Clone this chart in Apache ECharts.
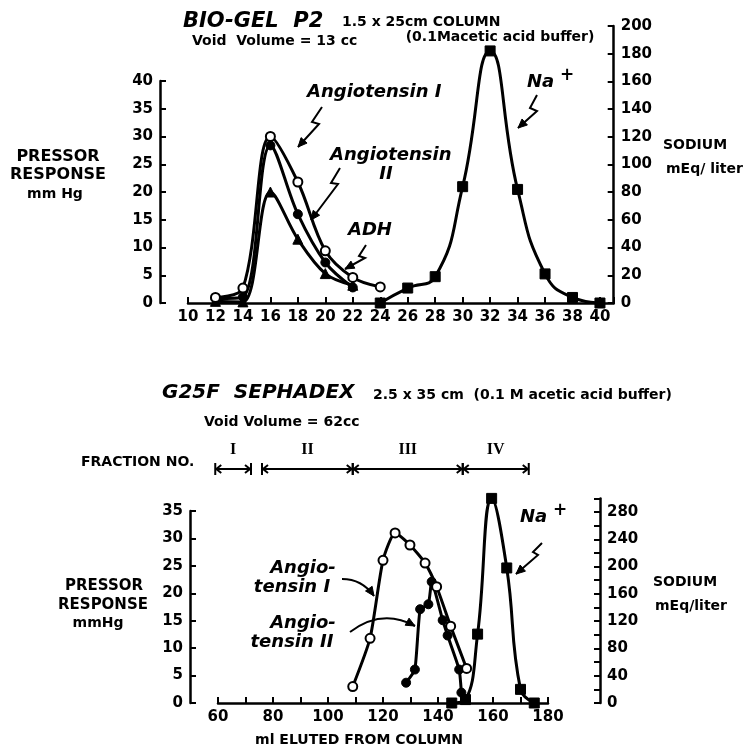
<!DOCTYPE html>
<html><head><meta charset="utf-8">
<script src="https://cdn.jsdelivr.net/npm/echarts@6/dist/echarts.min.js"></script>
<style>html,body{margin:0;padding:0;background:#fff}#c{width:750px;height:747px}</style>
</head><body><div id="c"></div>
<script>
// ---- Top panel: BIO-GEL P2 (ml eluted vs response / sodium) ----
const topAngioI  = [[12,1],[14,2.7],[16,30],[18,21.8],[20,9.4],[22,4.6],[24,2.9]];
const topAngioII = [[12,0.8],[14,1.1],[16,28.4],[18,16],[20,7.3],[22,2.8]];
const topADH     = [[12,0.3],[14,0.2],[16,20],[18,11.5],[20,5.3],[22,3.2]];
const topSodium  = [[24,0],[26,10.8],[28,19],[30,84],[32,182],[34,82],[36,21],[38,4],[40,0]];
// ---- Bottom panel: G25F SEPHADEX ----
const botAngioI  = [[109,3],[115.3,11.8],[120,26],[124.4,31],[129.8,28.8],[135.3,25.5],[139.5,21.2],[144.6,14],[150.4,6.3]];
const botAngioII = [[128.4,3.7],[131.6,6.1],[133.5,17.1],[136.5,18],[137.7,22.1],[141.7,15.1],[143.5,12.3],[147.7,6.1],[148.5,1.9]];
const botSodium  = [[145,0],[150,5],[154.4,101],[159.5,300],[165,198],[170,20],[175,0]];
// Fraction boundaries (ml) and names
const fractionRanges = [[59,72],[76,109],[109,149],[149,173]];
const fractionNames = ['I','II','III','IV'];

const FONT = 'DejaVu Sans';
const lab = {color:'#000', fontFamily:FONT, fontWeight:'bold', fontSize:15, margin:7};
const axLine = {show:true, lineStyle:{color:'#000', width:2.5}};
const tick = {show:true, inside:true, length:6, lineStyle:{color:'#000', width:2}};

function lineSeries(name, data, xi, yi, symbol, open, size, smooth){
  return {type:'line', name, data, xAxisIndex:xi, yAxisIndex:yi, smooth:smooth,
    symbol, symbolSize:size, showAllSymbol:true,
    lineStyle:{color:'#000', width:3},
    itemStyle: open ? {color:'#fff', borderColor:'#000', borderWidth:2} : {color:'#000', borderColor:'#000', borderWidth:1},
    z: open ? 4 : 3, animation:false};
}

const chart = echarts.init(document.getElementById('c'), null, {renderer:'canvas'});
const option = {
  backgroundColor:'#fff',
  animation:false,
  grid:[
    {left:188, top:81, width:425.7, height:222},
    {left:188, top:26, width:425.7, height:277},
    {left:218, top:511, width:330, height:192},
    {left:218, top:498.4, width:330, height:204.6}
  ],
  xAxis:[
    {type:'value', gridIndex:0, min:10, max:41, interval:2, axisLine:axLine, axisTick:tick,
      axisLabel:Object.assign({}, lab, {formatter:v=> v===41?'':String(v)}), splitLine:{show:false}},
    {type:'value', gridIndex:1, min:10, max:41, interval:2, show:false},
    {type:'value', gridIndex:2, min:60, max:180, interval:10, axisLine:axLine, axisTick:tick,
      axisLabel:Object.assign({}, lab, {formatter:v=> v%20===0?String(v):''}), splitLine:{show:false}},
    {type:'value', gridIndex:3, min:60, max:180, interval:10, show:false}
  ],
  yAxis:[
    {type:'value', gridIndex:0, position:'left', offset:28, min:0, max:40, interval:5,
      axisLine:axLine, axisTick:tick, axisLabel:lab, splitLine:{show:false}},
    {type:'value', gridIndex:1, position:'right', offset:0, min:0, max:200, interval:20,
      axisLine:axLine, axisTick:tick, axisLabel:lab, splitLine:{show:false}},
    {type:'value', gridIndex:2, position:'left', offset:28, min:0, max:35, interval:5,
      axisLine:axLine, axisTick:tick, axisLabel:lab, splitLine:{show:false}},
    {type:'value', gridIndex:3, position:'right', offset:52, min:0, max:300, interval:20,
      axisLine:axLine, axisTick:tick,
      axisLabel:Object.assign({}, lab, {formatter:v=> (v%40===0 && v!==300)?String(v):''}), splitLine:{show:false}}
  ],
  series:[
    lineSeries('Angiotensin I', topAngioI, 0, 0, 'circle', true, 9, 0.35),
    lineSeries('Angiotensin II', topAngioII, 0, 0, 'circle', false, 9, 0.35),
    lineSeries('ADH', topADH, 0, 0, 'triangle', false, 10, 0.35),
    lineSeries('Na+', topSodium, 1, 1, 'rect', false, 10, 0.5),
    lineSeries('Angiotensin I (G25F)', botAngioI, 2, 2, 'circle', true, 9, 0.2),
    lineSeries('Angiotensin II (G25F)', botAngioII, 2, 2, 'circle', false, 9, 0.15),
    lineSeries('Na+ (G25F)', botSodium, 3, 3, 'rect', false, 10, 0.45)
  ]
};
chart.setOption(option);

// ---------- annotations ----------
const g = [];
function txt(x, y, text, font, align){
  g.push({type:'text', x, y, z:10, style:{text, font, fill:'#000', align:align||'left', verticalAlign:'middle'}});
}
function poly(points, w){
  g.push({type:'polyline', z:10, shape:{points}, style:{stroke:'#000', lineWidth:w||2, fill:null}});
}
function head(tip, from, size){
  const dx = tip[0]-from[0], dy = tip[1]-from[1], L = Math.hypot(dx,dy);
  const ux = dx/L, uy = dy/L, nx = -uy, ny = ux;
  const bx = tip[0]-ux*size, by = tip[1]-uy*size;
  g.push({type:'polygon', z:10, shape:{points:[tip,[bx+nx*size*0.45, by+ny*size*0.45],[bx-nx*size*0.45, by-ny*size*0.45]]},
    style:{fill:'#000', stroke:'#000', lineWidth:1}});
}
function bolt(pts){
  poly(pts, 2);
  head(pts[pts.length-1], pts[pts.length-2], 9);
}
function curveArrow(p0, cp, p1){
  g.push({type:'bezierCurve', z:10, shape:{x1:p0[0], y1:p0[1], cpx1:cp[0], cpy1:cp[1], x2:p1[0], y2:p1[1]},
    style:{stroke:'#000', lineWidth:2, fill:null}});
  head(p1, cp, 9);
}

const BI = 'italic bold 21px "DejaVu Sans"';
const AI = 'italic bold 18px "DejaVu Sans"';
const B14 = 'bold 14px "DejaVu Sans"';
const B15 = 'bold 15px "DejaVu Sans"';

// top titles
txt(183, 22, 'BIO-GEL  P2', BI);
txt(342, 22, '1.5 x 25cm COLUMN', B14);
txt(192, 41, 'Void  Volume = 13 cc', B14);
txt(500, 37, '(0.1Macetic acid buffer)', B14, 'center');
txt(58, 157, 'PRESSOR', 'bold 16px "DejaVu Sans"', 'center');
txt(58, 175, 'RESPONSE', 'bold 16px "DejaVu Sans"', 'center');
txt(55, 194, 'mm Hg', B14, 'center');
txt(663, 145, 'SODIUM', B14);
txt(666, 169, 'mEq/ liter', B14);
txt(307, 92, 'Angiotensin I', AI);
txt(330, 155, 'Angiotensin', AI);
txt(386, 174, 'II', AI, 'center');
txt(348, 230, 'ADH', AI);
txt(527, 82, 'Na', AI);
txt(567, 76, '+', 'bold 17px "DejaVu Sans"', 'center');
bolt([[322,107],[312,122],[319,124],[298,147]]);
bolt([[340,168],[331,183],[338,184],[311,220]]);
bolt([[366,245],[359,256],[365,258],[345,269]]);
bolt([[537,95],[530,108],[537,111],[518,128]]);

// bottom titles
txt(162, 393, 'G25F  SEPHADEX', 'italic bold 20px "DejaVu Sans"');
txt(373, 395, '2.5 x 35 cm  (0.1 M acetic acid buffer)', B14);
txt(204, 422, 'Void Volume = 62cc', B14);
txt(81, 462, 'FRACTION NO.', B14);
txt(104, 586, 'PRESSOR', B15, 'center');
txt(103, 605, 'RESPONSE', B15, 'center');
txt(98, 623, 'mmHg', B14, 'center');
txt(653, 582, 'SODIUM', B14);
txt(655, 606, 'mEq/liter', B14);
txt(359, 740, 'ml ELUTED FROM COLUMN', B14, 'center');
txt(303, 568, 'Angio-', AI, 'center');
txt(292, 587, 'tensin I', AI, 'center');
txt(303, 623, 'Angio-', AI, 'center');
txt(292, 642, 'tensin II', AI, 'center');
txt(520, 517, 'Na', AI);
txt(560, 511, '+', 'bold 17px "DejaVu Sans"', 'center');
bolt([[542,543],[533,552],[538,555],[516,574]]);
curveArrow([342,579],[362,579],[374,596]);
curveArrow([350,632],[382,608],[415,626]);

// fraction bar from data ranges
const FY = 469;
const px = v => chart.convertToPixel({xAxisIndex:2}, v);
fractionRanges.forEach((r, i) => {
  const a = px(r[0]), b = px(r[1]);
  poly([[a,FY],[b,FY]], 2);
  poly([[a,FY-6],[a,FY+6]], 2);
  poly([[b,FY-6],[b,FY+6]], 2);
  poly([[a+6,FY-4],[a+1,FY],[a+6,FY+4]], 2);
  poly([[b-6,FY-4],[b-1,FY],[b-6,FY+4]], 2);
  txt((a+b)/2, 450, fractionNames[i], 'bold 16px "Liberation Serif"', 'center');
});

chart.setOption({graphic:{elements:g}});
</script></body></html>
